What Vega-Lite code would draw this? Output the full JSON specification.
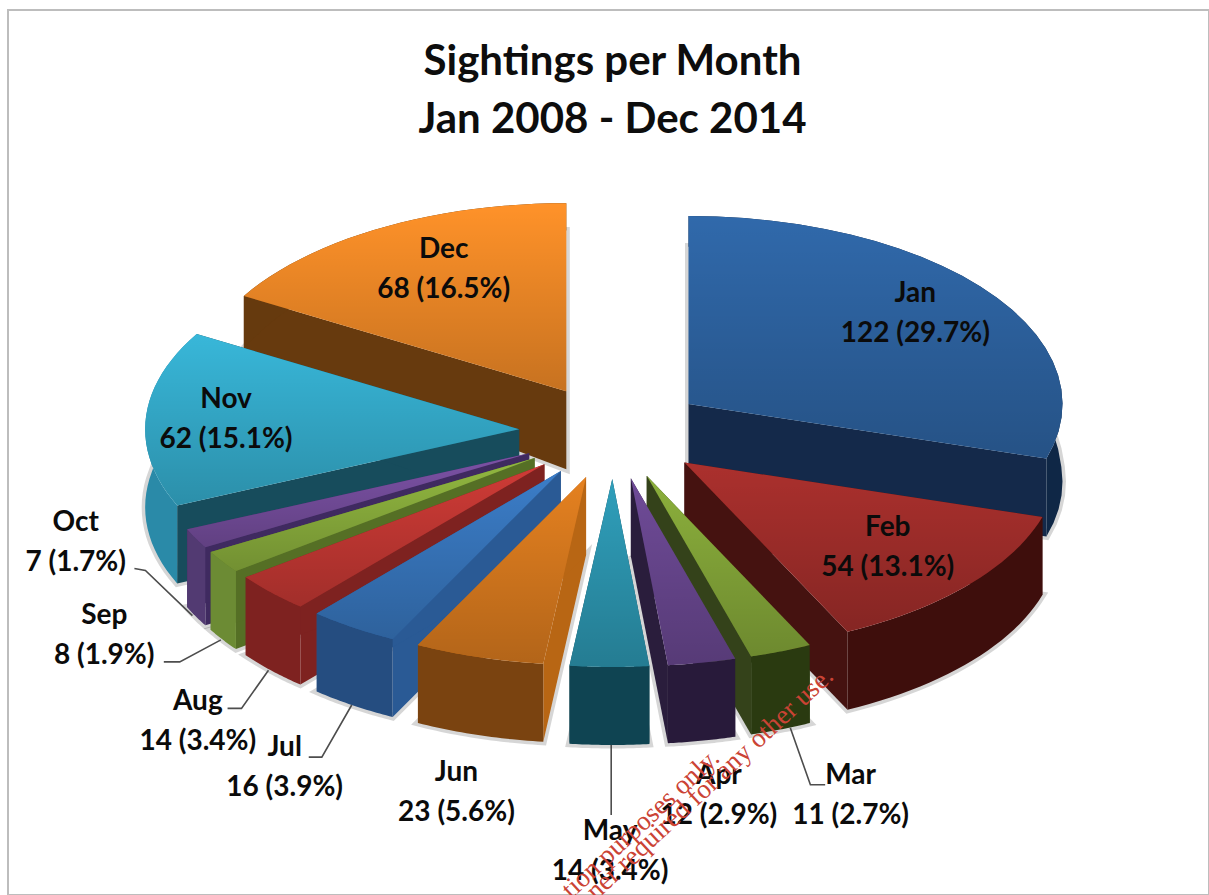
{"$schema":"https://vega.github.io/schema/vega-lite/v6.json","width":1201,"height":885,"autosize":"none","padding":{"left":8,"top":10,"right":0,"bottom":0},"background":"white","config":{"view":{"stroke":"#bdbdbd","strokeWidth":2}},"title":{"text":["Sightings per Month","Jan 2008 - Dec 2014"],"font":"Lato","fontSize":42,"fontWeight":"bold","color":"#0d0d0d","lineHeight":58,"anchor":"middle","frame":"group","baseline":"top","offset":-132,"dx":4},"data":{"values":[{"monthNo":12,"month":"Dec","count":68},{"monthNo":1,"month":"Jan","count":122},{"monthNo":11,"month":"Nov","count":62},{"monthNo":10,"month":"Oct","count":7},{"monthNo":9,"month":"Sep","count":8},{"monthNo":8,"month":"Aug","count":14},{"monthNo":7,"month":"Jul","count":16},{"monthNo":6,"month":"Jun","count":23},{"monthNo":5,"month":"May","count":14},{"monthNo":4,"month":"Apr","count":12},{"monthNo":3,"month":"Mar","count":11},{"monthNo":2,"month":"Feb","count":54}]},"transform":[{"joinaggregate":[{"op":"sum","field":"count","as":"total"}]},{"window":[{"op":"sum","field":"count","as":"cum"}],"sort":[{"field":"monthNo","order":"ascending"}],"frame":[null,0]},{"calculate":"2*PI*(datum.cum-datum.count)/datum.total","as":"a0"},{"calculate":"2*PI*datum.cum/datum.total","as":"a1"},{"calculate":"(datum.a0+datum.a1)/2","as":"mid"},{"calculate":"613+94*sin(datum.mid)","as":"apexX"},{"calculate":"432-47*cos(datum.mid)","as":"apexY"}],"layer":[{"transform":[{"calculate":"[-1,0,0.04,0.08,0.12,0.16,0.2,0.24,0.28,0.32,0.36,0.4,0.44,0.48,0.52,0.56,0.6,0.64,0.68,0.72,0.76,0.8,0.84,0.88,0.92,0.96,1]","as":"t"},{"flatten":["t"]},{"calculate":"datum.a0+datum.t*(datum.a1-datum.a0)","as":"theta"},{"calculate":"datum.t<0?datum.apexX:datum.apexX+374*sin(datum.theta)","as":"px"},{"calculate":"datum.t<0?datum.apexY:datum.apexY-188*cos(datum.theta)","as":"topY"},{"calculate":"datum.topY+min(78,52+(datum.topY-295)*0.27)","as":"py"}],"mark":{"type":"line","interpolate":"linear-closed","stroke":"#000000","strokeWidth":7,"strokeOpacity":0.16},"encoding":{"x":{"field":"px","type":"quantitative","scale":{"domain":[8,1209],"nice":false,"zero":false},"axis":null},"y":{"field":"py","type":"quantitative","scale":{"domain":[10,895],"nice":false,"zero":false,"reverse":true},"axis":null},"order":{"field":"t","type":"quantitative"},"detail":{"field":"month"}}},{"transform":[{"calculate":"[0,1,2,3]","as":"corner"},{"flatten":["corner"]},{"calculate":"[0,1]","as":"side"},{"flatten":["side"]},{"calculate":"datum.side==0?datum.a0:datum.a1","as":"edgeAngle"},{"calculate":"(datum.corner==1||datum.corner==2)?1:0","as":"t"},{"calculate":"datum.apexX+datum.t*374*sin(datum.edgeAngle)","as":"px"},{"calculate":"datum.apexY-datum.t*188*cos(datum.edgeAngle)","as":"topY"},{"calculate":"datum.corner>=2?datum.topY+min(78,52+(datum.topY-295)*0.27):datum.topY","as":"py"}],"mark":{"type":"line","strokeWidth":0},"encoding":{"x":{"field":"px","type":"quantitative"},"y":{"field":"py","type":"quantitative"},"order":{"field":"corner","type":"quantitative"},"detail":{"field":"side"},"fill":{"field":"month","type":"nominal","legend":null,"scale":{"domain":["Jan","Feb","Mar","Apr","May","Jun","Jul","Aug","Sep","Oct","Nov","Dec"],"range":["#14294a","#451210","#34421a","#2a1d3c","#124553","#b86614","#2a5a95","#7e2220","#556f25","#3f2a60","#174c5c","#673a0e"]}}}},{"transform":[{"calculate":"[0,1,2,3,4,5,6,7,8,9,10,11,12,13,14,15,16,17,18,19,20,21,22,23,24,25,26,27,28,29,30,31,32,33,34,35,36,37,38,39,40,41,42,43,44,45,46,47,48,49,50,51]","as":"k"},{"flatten":["k"]},{"calculate":"datum.k<=25?datum.k/25:(51-datum.k)/25","as":"t"},{"calculate":"datum.a0+datum.t*(datum.a1-datum.a0)","as":"theta"},{"calculate":"datum.apexX+374*sin(datum.theta)","as":"px"},{"calculate":"datum.apexY-188*cos(datum.theta)","as":"topY"},{"calculate":"datum.k>25?datum.topY+min(78,52+(datum.topY-295)*0.27):datum.topY","as":"py"}],"mark":{"type":"line","strokeWidth":0},"encoding":{"x":{"field":"px","type":"quantitative"},"y":{"field":"py","type":"quantitative"},"order":{"field":"k","type":"quantitative"},"fill":{"field":"month","type":"nominal","legend":null,"scale":{"domain":["Jan","Feb","Mar","Apr","May","Jun","Jul","Aug","Sep","Oct","Nov","Dec"],"range":["#0f2746","#3e0e0c","#2a3a10","#281a3a","#0f4452","#7a4310","#254d80","#7e2220","#6c8b34","#523a72","#2a8aa8","#663a0e"]}}}},{"transform":[{"calculate":"[-1,0,0.04,0.08,0.12,0.16,0.2,0.24,0.28,0.32,0.36,0.4,0.44,0.48,0.52,0.56,0.6,0.64,0.68,0.72,0.76,0.8,0.84,0.88,0.92,0.96,1]","as":"t"},{"flatten":["t"]},{"calculate":"datum.a0+datum.t*(datum.a1-datum.a0)","as":"theta"},{"calculate":"datum.t<0?datum.apexX:datum.apexX+374*sin(datum.theta)","as":"px"},{"calculate":"datum.t<0?datum.apexY:datum.apexY-188*cos(datum.theta)","as":"py"}],"mark":{"type":"line","strokeWidth":0},"encoding":{"x":{"field":"px","type":"quantitative"},"y":{"field":"py","type":"quantitative"},"order":{"field":"t","type":"quantitative"},"fill":{"field":"month","type":"nominal","legend":null,"scale":{"domain":["Jan","Feb","Mar","Apr","May","Jun","Jul","Aug","Sep","Oct","Nov","Dec"],"range":["#3069ab","#ab302d","#8cb03c","#6f4b98","#2f9fbb","#e58120","#3b7dc8","#cf3b36","#92b840","#7c52a6","#38b7d9","#ff9229"]}}}},{"transform":[{"calculate":"[-1,0,0.04,0.08,0.12,0.16,0.2,0.24,0.28,0.32,0.36,0.4,0.44,0.48,0.52,0.56,0.6,0.64,0.68,0.72,0.76,0.8,0.84,0.88,0.92,0.96,1]","as":"t"},{"flatten":["t"]},{"calculate":"datum.a0+datum.t*(datum.a1-datum.a0)","as":"theta"},{"calculate":"datum.t<0?datum.apexX:datum.apexX+374*sin(datum.theta)","as":"px"},{"calculate":"datum.t<0?datum.apexY:datum.apexY-188*cos(datum.theta)","as":"py"}],"mark":{"type":"line","strokeWidth":0,"fill":{"gradient":"linear","x1":0,"y1":0,"x2":0,"y2":1,"stops":[{"offset":0,"color":"rgba(0,0,0,0)"},{"offset":1,"color":"rgba(0,0,0,0.22)"}]}},"encoding":{"x":{"field":"px","type":"quantitative"},"y":{"field":"py","type":"quantitative"},"order":{"field":"t","type":"quantitative"},"detail":{"field":"month"}}},{"transform":[{"calculate":"{Mar:[[1.07,1.435,0],[1.22,1.76,1],[1.33,1.76,2]],May:[[0.38,1.415,0],[0.38,1.787,1]],Jul:[[1.007,1.496,0],[1.151,1.829,1],[1.214,1.829,2]],Aug:[[1.011,1.604,0],[1.11,1.9,1],[1.161,1.9,2]],Sep:[[1.006,1.753,0],[1.138,1.965,1],[1.189,1.965,2]],Oct:[[1.01,1.906,0],[1.151,1.376,1],[1.184,1.353,2]]}[datum.month]||[]","as":"leader"},{"flatten":["leader"]},{"filter":"isValid(datum.leader)"},{"calculate":"datum.apexX+datum.leader[0]*374*sin(datum.mid)","as":"px"},{"calculate":"datum.apexY-datum.leader[1]*188*cos(datum.mid)","as":"py"},{"calculate":"datum.leader[2]","as":"seq"}],"mark":{"type":"line","stroke":"#4d4d4d","strokeWidth":1.6},"encoding":{"x":{"field":"px","type":"quantitative"},"y":{"field":"py","type":"quantitative"},"order":{"field":"seq","type":"quantitative"},"detail":{"field":"month"}}},{"transform":[{"calculate":"{Jan:[0.755,0.83],Feb:[0.715,0.68],Mar:[1.52,1.81],Apr:[1.24,1.71],May:[0.77,1.97],Jun:[1.21,1.74],Jul:[1.33,1.88],Aug:[1.27,1.99],Sep:[1.38,1.69],Oct:[1.36,1.02],Nov:[0.785,1.1],Dec:[0.66,0.76]}[datum.month]","as":"place"},{"calculate":"datum.apexX+datum.place[0]*374*sin(datum.mid)","as":"px"},{"calculate":"datum.apexY-datum.place[1]*188*cos(datum.mid)-17.5","as":"py"},{"calculate":"datum.month+'\\n'+datum.count+' ('+format(datum.count/datum.total,'.1%')+')'","as":"label"}],"mark":{"type":"text","font":"Lato","fontWeight":"bold","fontSize":28,"lineHeight":40,"lineBreak":"\n","align":"center","baseline":"middle","color":"#0b0b0b"},"encoding":{"x":{"field":"px","type":"quantitative"},"y":{"field":"py","type":"quantitative"},"text":{"field":"label"}}},{"data":{"values":[{"note":"tion purposes only."}]},"transform":[],"mark":{"type":"text","font":"Liberation Serif","fontSize":27,"angle":-43,"align":"right","baseline":"alphabetic","color":"#cb4335"},"encoding":{"x":{"datum":721},"y":{"datum":760},"text":{"field":"note"}}},{"data":{"values":[{"note":"ner required for any other use."}]},"transform":[],"mark":{"type":"text","font":"Liberation Serif","fontSize":27,"angle":-43,"align":"right","baseline":"alphabetic","color":"#cb4335"},"encoding":{"x":{"datum":835},"y":{"datum":678},"text":{"field":"note"}}}],"resolve":{"scale":{"fill":"independent"}}}
